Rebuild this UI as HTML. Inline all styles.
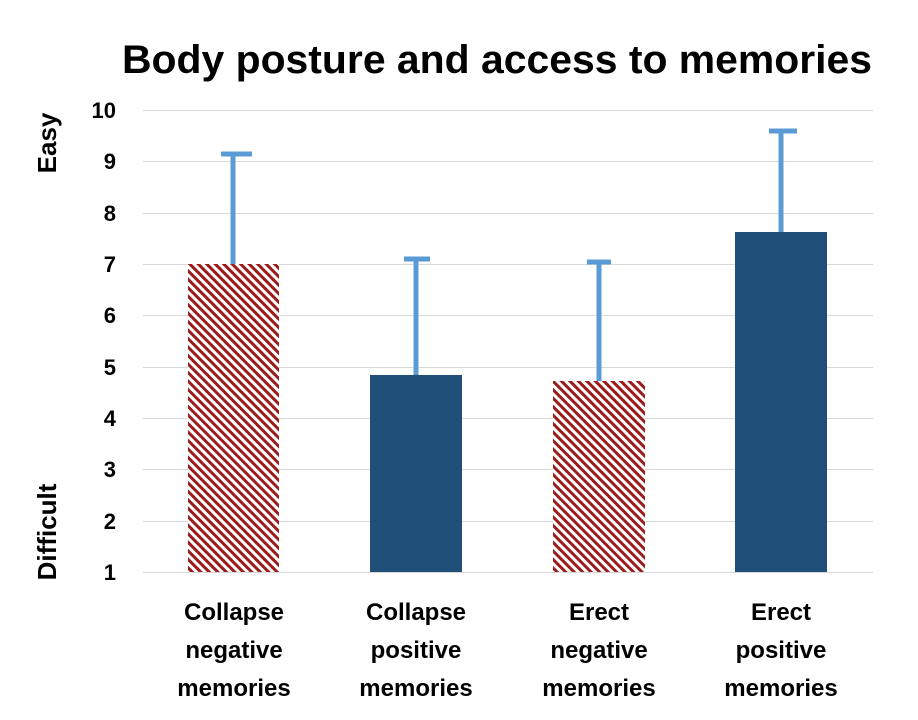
<!DOCTYPE html>
<html><head><style>
body{margin:0;background:#fff;}
svg text{font-family:"Liberation Sans",sans-serif;font-weight:bold;fill:#000;}
</style></head><body>
<svg width="918" height="715" xmlns="http://www.w3.org/2000/svg">
<defs>
<pattern id="h" width="6" height="6" patternUnits="userSpaceOnUse" patternTransform="rotate(-45)">
<rect width="6" height="6" fill="#fff"/>
<rect width="3" height="6" fill="#9b1c1c"/>
</pattern>
</defs>
<text x="497" y="73" font-size="40" text-anchor="middle" textLength="750" lengthAdjust="spacingAndGlyphs">Body posture and access to memories</text>
<g stroke="#d9d9d9" stroke-width="1">
<line x1="143" x2="873" y1="110.5" y2="110.5"/>
<line x1="143" x2="873" y1="161.5" y2="161.5"/>
<line x1="143" x2="873" y1="213.5" y2="213.5"/>
<line x1="143" x2="873" y1="264.5" y2="264.5"/>
<line x1="143" x2="873" y1="315.5" y2="315.5"/>
<line x1="143" x2="873" y1="367.5" y2="367.5"/>
<line x1="143" x2="873" y1="418.5" y2="418.5"/>
<line x1="143" x2="873" y1="469.5" y2="469.5"/>
<line x1="143" x2="873" y1="521.5" y2="521.5"/>
<line x1="143" x2="873" y1="572.5" y2="572.5"/>
</g>
<g font-size="22" text-anchor="end">
<text x="116" y="118">10</text><text x="116" y="169">9</text><text x="116" y="221">8</text>
<text x="116" y="272">7</text><text x="116" y="323">6</text><text x="116" y="375">5</text>
<text x="116" y="426">4</text><text x="116" y="477">3</text><text x="116" y="529">2</text>
<text x="116" y="580">1</text>
</g>
<text transform="translate(56,143) rotate(-90)" font-size="26" text-anchor="middle">Easy</text>
<text transform="translate(56,532) rotate(-90)" font-size="26" text-anchor="middle">Difficult</text>
<g stroke="#5b9bd5" stroke-width="5">
<line x1="233" x2="233" y1="154" y2="265"/><line x1="221" x2="252" y1="154" y2="154"/>
<line x1="416" x2="416" y1="259" y2="375"/><line x1="404" x2="430" y1="259" y2="259"/>
<line x1="599" x2="599" y1="262" y2="381"/><line x1="587" x2="611" y1="262" y2="262"/>
<line x1="781" x2="781" y1="131" y2="232"/><line x1="769" x2="797" y1="131" y2="131"/>
</g>
<rect x="188" y="264" width="91" height="308" fill="url(#h)"/>
<rect x="370" y="375" width="92" height="197" fill="#1f4e79"/>
<rect x="553" y="381" width="92" height="191" fill="url(#h)"/>
<rect x="735" y="232" width="92" height="340" fill="#1f4e79"/>
<g font-size="24" text-anchor="middle">
<text x="234" y="620">Collapse</text><text x="234" y="658">negative</text><text x="234" y="696">memories</text>
<text x="416" y="620">Collapse</text><text x="416" y="658">positive</text><text x="416" y="696">memories</text>
<text x="599" y="620">Erect</text><text x="599" y="658">negative</text><text x="599" y="696">memories</text>
<text x="781" y="620">Erect</text><text x="781" y="658">positive</text><text x="781" y="696">memories</text>
</g>
</svg>
</body></html>
